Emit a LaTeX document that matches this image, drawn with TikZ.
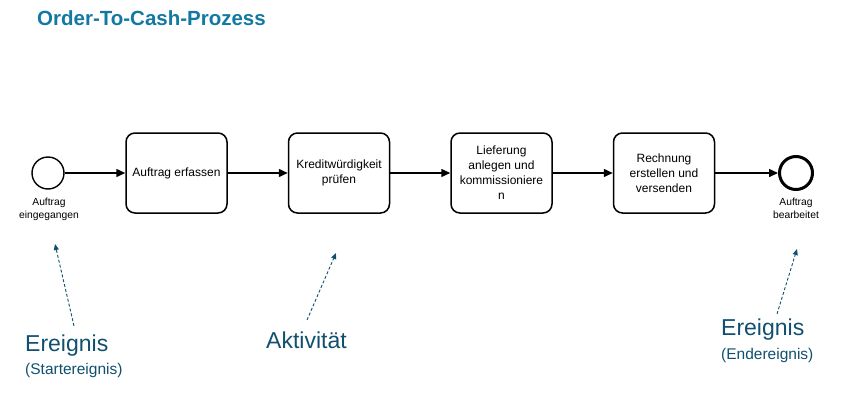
\documentclass[tikz,border=0pt]{standalone}
\usepackage{fontspec}
\setmainfont{Liberation Sans}
\usetikzlibrary{arrows.meta}
\definecolor{titleblue}{RGB}{18,121,163}
\definecolor{annot}{RGB}{16,80,110}
\begin{document}
\begin{tikzpicture}[x=1pt,y=-1pt,
  task/.style={draw,line width=1.5pt,rounded corners=9pt,minimum width=101pt,minimum height=80pt,inner sep=0pt,align=center,font=\fontsize{12}{15}\selectfont},
  startev/.style={draw,circle,line width=1.4pt,minimum size=32pt,inner sep=0pt},
  endev/.style={draw,circle,line width=3pt,minimum size=33pt,inner sep=0pt},
  evlabel/.style={anchor=north,align=center,inner sep=0pt,font=\fontsize{10.3}{12.5}\selectfont},
  flow/.style={line width=1.5pt,-{Triangle[length=9pt,width=8pt]}},
  note/.style={annot,line width=0.9pt,dashed,dash pattern=on 3pt off 2pt,-{Triangle[length=6pt,width=5pt]}},
  bigtxt/.style={annot,inner sep=0pt,anchor=west,font=\fontsize{23}{26}\selectfont},
  smalltxt/.style={annot,inner sep=0pt,anchor=west,font=\fontsize{15.5}{18}\selectfont}
]
\useasboundingbox (0,0) rectangle (849,407);
\node[titleblue,anchor=west,inner sep=0pt,font=\fontsize{20.5}{24}\selectfont\bfseries] (title) at (37,18) {Order-To-Cash-Prozess};

\node[startev] (s) at (48,173) {};
\node[task] (t1) at (176.5,173) {Auftrag erfassen};
\node[task] (t2) at (339,173) {Kreditwürdigkeit\\prüfen};
\node[task] (t3) at (501.5,173) {Lieferung\\anlegen und\\kommissioniere\\n};
\node[task] (t4) at (664,173) {Rechnung\\erstellen und\\versenden};
\node[endev] (e) at (796,173) {};

\draw[flow] (s) -- (t1);
\draw[flow] (t1) -- (t2);
\draw[flow] (t2) -- (t3);
\draw[flow] (t3) -- (t4);
\draw[flow] (t4) -- (e);

\node[evlabel] (sl) at (49,198) {Auftrag\\eingegangen};
\node[evlabel] (el) at (796,198) {Auftrag\\bearbeitet};

\node[bigtxt] (ev1) at (25,346) {Ereignis};
\node[smalltxt] (ev1s) at (25,370) {(Startereignis)};
\node[bigtxt] (act) at (266,340) {Aktivität};
\node[bigtxt] (ev2) at (721,330) {Ereignis};
\node[smalltxt] (ev2s) at (721,355) {(Endereignis)};

\coordinate (a1s) at (74,326);
\coordinate (a1e) at (55,244);
\coordinate (a2s) at (307,320);
\coordinate (a2e) at (336,253);
\coordinate (a3s) at (777,314);
\coordinate (a3e) at (797,249);
\draw[note] (a1s) -- (a1e);
\draw[note] (a2s) -- (a2e);
\draw[note] (a3s) -- (a3e);
\end{tikzpicture}
\end{document}
